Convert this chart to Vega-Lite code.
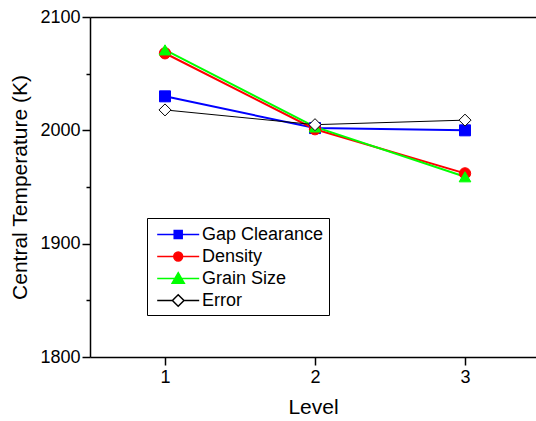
{
  "$schema": "https://vega.github.io/schema/vega-lite/v6.json",
  "autosize": {"type": "none"},
  "padding": {"left": 90, "top": 17, "right": 0, "bottom": 64},
  "width": 446,
  "height": 340,
  "background": "white",
  "config": {
    "view": {"stroke": null},
    "font": "Liberation Sans",
    "axis": {
      "labelFont": "Liberation Sans", "titleFont": "Liberation Sans",
      "labelFontSize": 18, "titleFontSize": 21, "titleFontWeight": "normal",
      "labelColor": "black", "titleColor": "black",
      "domainColor": "black", "tickColor": "black",
      "domainWidth": 1.5, "tickWidth": 1.5, "grid": false
    }
  },
  "data": {"values": [
    {"level": 1, "series": "Gap Clearance", "temp": 2030},
    {"level": 2, "series": "Gap Clearance", "temp": 2002},
    {"level": 3, "series": "Gap Clearance", "temp": 2000},
    {"level": 1, "series": "Density", "temp": 2068},
    {"level": 2, "series": "Density", "temp": 2001},
    {"level": 3, "series": "Density", "temp": 1962},
    {"level": 1, "series": "Grain Size", "temp": 2071},
    {"level": 2, "series": "Grain Size", "temp": 2003},
    {"level": 3, "series": "Grain Size", "temp": 1959},
    {"level": 1, "series": "Error", "temp": 2018},
    {"level": 2, "series": "Error", "temp": 2005},
    {"level": 3, "series": "Error", "temp": 2009}
  ]},
  "resolve": {
    "axis": {"x": "independent", "y": "independent"},
    "scale": {"shape": "independent", "fill": "independent", "stroke": "independent", "strokeWidth": "independent"}
  },
  "layer": [
    {
      "transform": [{"filter": "datum.series !== 'Error'"}],
      "mark": {"type": "line", "strokeWidth": 2},
      "encoding": {
        "x": {"field": "level", "type": "quantitative",
              "scale": {"domain": [0.5, 3.4733], "nice": false, "zero": false},
              "axis": {"orient": "bottom", "values": [1, 2, 3], "format": "d", "title": "Level",
                       "tickSize": 8, "labelPadding": 3, "titlePadding": 10}},
        "y": {"field": "temp", "type": "quantitative",
              "scale": {"domain": [1800, 2100], "nice": false, "zero": false},
              "axis": {"orient": "left", "values": [1800, 1900, 2000, 2100], "format": "d", "title": "Central Temperature (K)",
                       "tickSize": 8, "labelPadding": 2, "titlePadding": 9}},
        "color": {"field": "series", "type": "nominal",
                  "scale": {"domain": ["Gap Clearance", "Density", "Grain Size", "Error"],
                            "range": ["#0000ff", "#ff0000", "#00ff00", "#000000"]},
                  "legend": null}
      }
    },
    {
      "transform": [{"filter": "datum.series === 'Error'"}],
      "mark": {"type": "line", "strokeWidth": 1},
      "encoding": {
        "x": {"field": "level", "type": "quantitative", "axis": null},
        "y": {"field": "temp", "type": "quantitative", "axis": null},
        "color": {"field": "series", "type": "nominal", "legend": null}
      }
    },
    {
      "mark": {"type": "point", "opacity": 1, "strokeWidth": 1},
      "encoding": {
        "x": {"field": "level", "type": "quantitative",
              "axis": {"orient": "top", "ticks": false, "labels": false, "title": null, "domain": true}},
        "y": {"field": "temp", "type": "quantitative",
              "axis": {"orient": "left", "values": [1850, 1950, 2050], "labels": false, "title": null, "domain": false,
                       "tickSize": 4}},
        "shape": {"field": "series", "type": "nominal",
                  "scale": {"domain": ["Gap Clearance", "Density", "Grain Size", "Error"],
                            "range": ["square", "circle", "triangle-up", "diamond"]},
                  "legend": null},
        "fill": {"field": "series", "type": "nominal",
                  "scale": {"domain": ["Gap Clearance", "Density", "Grain Size", "Error"],
                            "range": ["#0000ff", "#ff0000", "#00ff00", "#ffffff"]},
                  "legend": null},
        "stroke": {"field": "series", "type": "nominal",
                  "scale": {"domain": ["Gap Clearance", "Density", "Grain Size", "Error"],
                            "range": ["#0000ff", "#ff0000", "#00ff00", "#000000"]},
                  "legend": null},
        "size": {"field": "series", "type": "nominal",
                  "scale": {"domain": ["Gap Clearance", "Density", "Grain Size", "Error"],
                            "range": [121, 144, 170, 90]},
                  "legend": null}
      }
    },
    {
      "transform": [{"filter": "datum.level > 100"}],
      "mark": {"type": "point", "opacity": 1},
      "encoding": {
        "x": {"field": "level", "type": "quantitative", "axis": null},
        "y": {"field": "temp", "type": "quantitative", "axis": null},
        "shape": {"field": "series", "type": "nominal",
                  "scale": {"domain": ["Gap Clearance", "Density", "Grain Size", "Error"],
                            "range": [
                              "M-0.6,0H3.4M1.02,-0.38H1.78V0.38H1.02Z",
                              "M-0.6,0H3.4M0.98,0A0.42,0.42 0 1,0 1.82,0A0.42,0.42 0 1,0 0.98,0Z",
                              "M-0.6,0H3.4M1.4,-0.55L1.98,0.45H0.82Z",
                              "M-0.6,0H0.85M1.95,0H3.4M1.4,-0.55L1.95,0L1.4,0.55L0.85,0Z"
                            ]},
                  "legend": {
                    "title": null, "orient": "none", "legendX": 57, "legendY": 201,
                    "strokeColor": "black", "padding": 5, "fillColor": "white",
                    "labelFont": "Liberation Sans", "labelFontSize": 18, "labelColor": "black",
                    "symbolSize": 441, "rowPadding": 1, "labelOffset": 27,
                    "encode": {"symbols": {"update": {
                      "strokeWidth": {"signal": "datum.value === 'Error' ? 1 : 2"}
                    }}}
                  }},
        "fill": {"field": "series", "type": "nominal",
                  "scale": {"domain": ["Gap Clearance", "Density", "Grain Size", "Error"],
                            "range": ["#0000ff", "#ff0000", "#00ff00", "#ffffff"]}},
        "stroke": {"field": "series", "type": "nominal",
                  "scale": {"domain": ["Gap Clearance", "Density", "Grain Size", "Error"],
                            "range": ["#0000ff", "#ff0000", "#00ff00", "#000000"]}}
      }
    }
  ]
}
